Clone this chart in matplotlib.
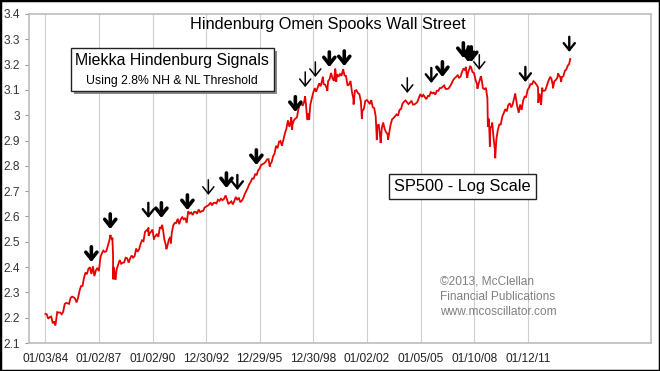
import matplotlib
matplotlib.use("Agg")
import matplotlib.pyplot as plt
import matplotlib.dates as mdates
from matplotlib.patches import Rectangle
import numpy as np
import pandas as pd

plt.rcParams['font.family'] = ['Liberation Sans', 'DejaVu Sans']

# ---------------- data ----------------
# S&P 500 month-end closes, Jan 1984 .. Apr 2013
monthly_close = [
    163.4, 157.1, 159.2, 160.1, 150.6, 153.2, 150.7, 166.7, 166.1, 166.1, 163.6, 167.2,
    179.6, 181.2, 180.7, 179.8, 189.6, 191.9, 190.9, 188.6, 182.1, 189.8, 202.2, 211.3,
    211.8, 226.9, 238.9, 235.5, 247.4, 250.8, 236.1, 252.9, 231.3, 244.0, 249.2, 242.2,
    274.1, 284.2, 291.7, 288.4, 290.1, 304.0, 318.7, 329.8, 321.8, 251.8, 230.3, 247.1,
    257.1, 267.8, 258.9, 261.3, 262.2, 273.5, 272.0, 261.5, 271.9, 279.0, 273.7, 277.7,
    297.5, 288.9, 294.9, 309.6, 320.5, 318.0, 346.1, 351.5, 349.2, 340.4, 346.0, 353.4,
    329.1, 331.9, 339.9, 330.8, 361.2, 358.0, 356.2, 322.6, 306.1, 304.0, 322.2, 330.2,
    343.9, 367.1, 375.2, 375.3, 389.8, 371.2, 387.8, 395.4, 387.9, 392.5, 375.2, 417.1,
    408.8, 412.7, 403.7, 415.0, 415.4, 408.1, 424.2, 414.0, 417.8, 418.7, 431.4, 435.7,
    438.8, 443.4, 451.7, 440.2, 450.2, 451.0, 448.1, 463.6, 458.9, 467.8, 461.8, 466.5,
    481.6, 467.1, 445.8, 450.9, 456.5, 444.3, 458.3, 475.5, 462.7, 472.4, 453.7, 459.3,
    470.4, 487.4, 500.7, 514.7, 533.4, 544.8, 562.1, 561.9, 584.4, 581.5, 605.4, 615.9,
    636.0, 640.4, 645.5, 654.2, 669.1, 670.6, 640.0, 652.0, 687.3, 705.3, 757.0, 740.7,
    786.2, 790.8, 757.1, 801.3, 848.3, 885.1, 954.3, 899.5, 947.3, 914.6, 955.4, 970.4,
    980.3, 1049.3, 1101.8, 1111.8, 1090.8, 1133.8, 1120.7, 957.3, 1017.0, 1098.7, 1163.6, 1229.2,
    1279.6, 1238.3, 1286.4, 1335.2, 1301.8, 1372.7, 1328.7, 1320.4, 1282.7, 1362.9, 1389.0, 1469.3,
    1394.5, 1366.4, 1498.6, 1452.4, 1420.6, 1454.6, 1430.8, 1517.7, 1436.5, 1429.4, 1315.2, 1320.3,
    1366.0, 1239.9, 1160.3, 1249.5, 1255.8, 1224.4, 1211.2, 1133.6, 1040.9, 1059.8, 1139.5, 1148.1,
    1130.2, 1106.7, 1147.4, 1076.9, 1067.1, 989.8, 911.6, 916.1, 815.3, 885.8, 936.3, 879.8,
    855.7, 841.2, 848.2, 916.9, 963.6, 974.5, 990.3, 1008.0, 996.0, 1050.7, 1058.2, 1111.9,
    1131.1, 1144.9, 1126.2, 1107.3, 1120.7, 1140.8, 1101.7, 1104.2, 1114.6, 1130.2, 1173.8, 1211.9,
    1181.3, 1203.6, 1180.6, 1156.9, 1191.5, 1191.3, 1234.2, 1220.3, 1228.8, 1207.0, 1249.5, 1248.3,
    1280.1, 1280.7, 1294.9, 1310.6, 1270.1, 1270.2, 1276.7, 1303.8, 1335.9, 1377.9, 1400.6, 1418.3,
    1438.2, 1406.8, 1420.9, 1482.4, 1530.6, 1503.4, 1455.3, 1474.0, 1526.8, 1549.4, 1481.1, 1468.4,
    1378.6, 1330.6, 1322.7, 1385.6, 1400.4, 1280.0, 1267.4, 1282.8, 1166.4, 968.8, 896.2, 903.3,
    825.9, 735.1, 797.9, 872.8, 919.1, 919.3, 987.5, 1020.6, 1057.1, 1036.2, 1095.6, 1115.1,
    1073.9, 1104.5, 1169.4, 1186.7, 1089.4, 1030.7, 1101.6, 1049.3, 1141.2, 1183.3, 1180.6, 1257.6,
    1286.1, 1327.2, 1325.8, 1363.6, 1345.2, 1320.6, 1292.3, 1218.9, 1131.4, 1253.3, 1247.0, 1257.6,
    1312.4, 1365.7, 1408.5, 1397.9, 1310.3, 1362.2, 1379.3, 1406.6, 1440.7, 1412.2, 1416.2, 1426.2,
    1498.1, 1514.7, 1569.2, 1597.6,
]
monthly_start = '1984-01-31'

# intra-month highs / lows
swing_dates = [
    '1984-01-03', '1984-07-24', '1987-08-25', '1987-10-02', '1987-10-16', '1987-10-19',
    '1987-12-04', '1989-10-09', '1989-10-13', '1990-01-30', '1990-07-16', '1990-10-11',
    '1991-01-09', '1994-02-02', '1996-07-24', '1997-10-07', '1997-10-27', '1998-07-17',
    '1998-08-31', '1998-10-08', '1999-07-16', '1999-10-15', '2000-03-24', '2000-04-14',
    '2000-09-01', '2001-04-04', '2001-09-21', '2002-07-23', '2002-10-09', '2003-03-11',
    '2007-07-19', '2007-08-15', '2007-10-09', '2008-03-10', '2008-05-19', '2008-10-10',
    '2008-11-20', '2009-01-06', '2009-03-09', '2010-04-23', '2010-07-02', '2011-08-08',
    '2011-10-03', '2011-10-27', '2012-04-02', '2012-06-01', '2012-09-14', '2012-11-15',
    '2013-05-21',
]
swing_close = [
    164.0, 147.8, 336.8, 328.1, 282.7, 224.8,
    223.9, 359.8, 333.7, 323.0, 369.0, 295.5,
    311.5, 482.0, 626.7, 983.1, 877.0, 1186.8,
    957.3, 959.4, 1418.8, 1247.4, 1527.5, 1356.6,
    1520.8, 1103.3, 965.8, 797.7, 776.8, 800.7,
    1553.1, 1406.7, 1565.2, 1273.4, 1426.6, 899.2,
    752.4, 934.7, 676.5, 1217.3, 1022.6, 1119.5,
    1099.2, 1284.6, 1419.0, 1278.0, 1465.8, 1353.3,
    1669.2,
]

# Miekka Hindenburg signal arrows (date, tip level on log scale, weight)
arrow_dates = [
    '1986-07-30', '1987-08-20', '1989-10-07', '1990-07-01', '1991-12-15', '1993-02-15',
    '1994-02-20', '1994-10-01', '1995-10-25', '1997-12-30', '1998-07-20', '1999-02-12',
    '1999-11-25', '2000-09-25', '2004-04-06', '2005-08-10', '2006-03-25', '2007-05-27',
    '2007-09-07', '2007-11-05', '2008-04-17', '2010-11-15', '2013-05-01',
]
arrow_tips = [
    2.42, 2.55, 2.594, 2.594, 2.625, 2.685,
    2.712, 2.704, 2.803, 3.013, 3.111, 3.151,
    3.190, 3.194, 3.088, 3.127, 3.151, 3.226,
    3.210, 3.210, 3.179, 3.131, 3.250,
]
arrow_weight = [
    'bold', 'bold', 'medium', 'bold', 'bold', 'thin',
    'bold', 'medium', 'bold', 'bold', 'thin', 'thin',
    'bold', 'bold', 'thin', 'medium', 'bold', 'bold',
    'bold', 'bold', 'thin', 'medium', 'medium',
]

tick_dates = ['1984-01-03', '1987-01-02', '1990-01-02', '1992-12-30', '1995-12-29',
              '1998-12-30', '2002-01-02', '2005-01-05', '2008-01-10', '2011-01-12']
tick_labels = ['01/03/84', '01/02/87', '01/02/90', '12/30/92', '12/29/95',
               '12/30/98', '01/02/02', '01/05/05', '01/10/08', '01/12/11']
y_ticks = [2.1, 2.2, 2.3, 2.4, 2.5, 2.6, 2.7, 2.8, 2.9, 3.0, 3.1, 3.2, 3.3, 3.4]

# ---------------- build series ----------------
m_idx = pd.date_range(monthly_start, periods=len(monthly_close), freq='ME')
s = pd.concat([pd.Series(monthly_close, index=m_idx),
               pd.Series(swing_close, index=pd.to_datetime(swing_dates))]).sort_index()
logv = np.log10(s.values)

# ---------------- figure ----------------
W, H = 660, 371
fig = plt.figure(figsize=(W / 100, H / 100), dpi=100)
fig.patch.set_facecolor('white')

L, R, T, B = 29, 651, 14, 343
ax = fig.add_axes([L / W, 1 - B / H, (R - L) / W, (B - T) / H])
ax.set_facecolor('white')

ax.plot(s.index, logv, color='#e80000', lw=1.3, solid_joinstyle='miter', zorder=3)

ax.set_ylim(2.1, 3.4)
ax.set_xlim(pd.Timestamp('1983-02-01'), pd.Timestamp('2017-11-27'))

ax.set_yticks(y_ticks)
ax.set_yticklabels(['{:g}'.format(v) for v in y_ticks])
ax.set_xticks(pd.to_datetime(tick_dates))
ax.set_xticklabels(tick_labels)

ax.tick_params(axis='y', length=3, width=0.8, color='#999999', pad=3.5,
               labelsize=8.6, labelcolor='#333333')
ax.tick_params(axis='x', length=0, pad=7, labelsize=8.6, labelcolor='#222222')

ax.grid(axis='x', color='#cfcfcf', lw=0.8, zorder=0)
ax.grid(axis='y', visible=False)
for sp in ax.spines.values():
    sp.set_color('#bdbdbd')
    sp.set_linewidth(1.2)

# arrows
widths = {'thin': 1.1, 'medium': 1.7, 'bold': 2.6}
for d, tip, wgt in zip(arrow_dates, arrow_tips, arrow_weight):
    xd = mdates.date2num(pd.Timestamp(d))
    ax.annotate('', xy=(xd, tip), xytext=(xd, tip + 0.06),
                arrowprops=dict(arrowstyle='->,head_length=0.5,head_width=0.4',
                                lw=widths[wgt], color='black', shrinkA=0, shrinkB=0,
                                mutation_scale=10),
                zorder=5)

def fx(px):
    return px / W

def fy(py):
    return 1 - py / H

# title
fig.text(fx(327.5), fy(25), 'Hindenburg Omen Spooks Wall Street', ha='center', va='center',
         fontsize=11.7, color='black')

# Miekka box with shadow
bx0, bx1, by0, by1 = 71, 274, 48, 91
fig.patches.append(Rectangle((fx(bx0 + 3), fy(by1 + 3)), (bx1 - bx0) / W, (by1 - by0) / H,
                             transform=fig.transFigure, facecolor='#8a8a8a', edgecolor='none',
                             zorder=6))
fig.patches.append(Rectangle((fx(bx0), fy(by1)), (bx1 - bx0) / W, (by1 - by0) / H,
                             transform=fig.transFigure, facecolor='white', edgecolor='#222222',
                             lw=1.0, zorder=7))
fig.text(fx(172), fy(60), 'Miekka Hindenburg Signals', ha='center', va='center',
         fontsize=11.4, color='black', zorder=8)
fig.text(fx(172), fy(81), 'Using 2.8% NH & NL Threshold', ha='center', va='center',
         fontsize=8.8, color='black', zorder=8)

# SP500 box
sx0, sx1, sy0, sy1 = 389, 536, 174, 199
fig.patches.append(Rectangle((fx(sx0), fy(sy1)), (sx1 - sx0) / W, (sy1 - sy0) / H,
                             transform=fig.transFigure, facecolor='white', edgecolor='#222222',
                             lw=1.0, zorder=7))
fig.text(fx((sx0 + sx1) / 2), fy(186.5), 'SP500 - Log Scale', ha='center', va='center',
         fontsize=11.8, color='black', zorder=8)

# copyright
for txt, yy in [('\u00a92013, McClellan', 281), ('Financial Publications', 297),
                ('www.mcoscillator.com', 312)]:
    fig.text(fx(440), fy(yy), txt, ha='left', va='center', fontsize=8.6, color='#808080')

# outer border
fig.patches.append(Rectangle((0, 0), 1, 1, transform=fig.transFigure, fill=False,
                             edgecolor='black', lw=2.5, zorder=10))

fig.savefig('out.png', dpi=100)
